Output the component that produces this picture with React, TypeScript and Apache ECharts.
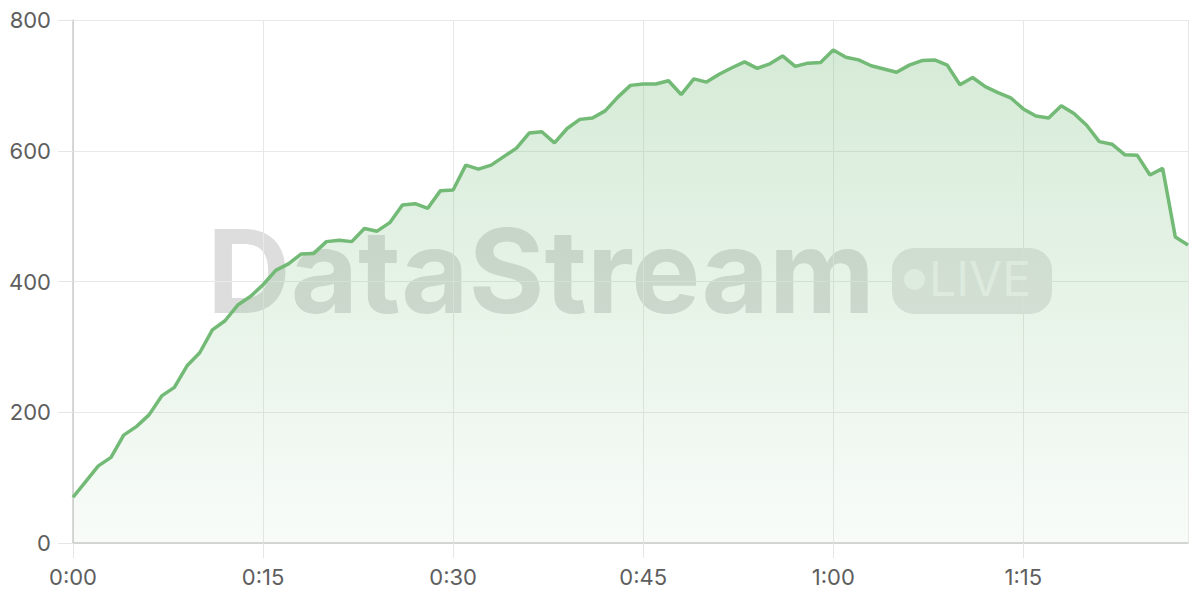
import React, { useEffect, useRef } from "react";
import * as echarts from "echarts";

// Minutes elapsed since start (one reading per minute)
const minutes: number[] = [
  0, 1, 2, 3, 4, 5, 6, 7, 8, 9, 10, 11, 12, 13, 14, 15, 16, 17, 18, 19, 20,
  21, 22, 23, 24, 25, 26, 27, 28, 29, 30, 31, 32, 33, 34, 35, 36, 37, 38, 39,
  40, 41, 42, 43, 44, 45, 46, 47, 48, 49, 50, 51, 52, 53, 54, 55, 56, 57, 58,
  59, 60, 61, 62, 63, 64, 65, 66, 67, 68, 69, 70, 71, 72, 73, 74, 75, 76, 77,
  78, 79, 80, 81, 82, 83, 84, 85, 86, 87, 88,
];

// Values
const values: number[] = [
  70, 94, 118, 131, 165, 178, 196, 225, 238, 271, 291, 326, 340, 364, 377, 395,
  417, 427, 442, 443, 461, 463, 461, 481, 477, 490, 517, 519, 512, 539, 540,
  578, 572, 578, 591, 604, 627, 629, 612, 634, 648, 650, 661, 682, 700, 702,
  702, 707, 686, 710, 705, 717, 727, 736, 726, 733, 745, 729, 734, 735, 754,
  743, 739, 730, 725, 720, 731, 738, 739, 731, 701, 712, 698, 689, 681, 664,
  653, 650, 669, 657, 639, 614, 610, 594, 593, 563, 573, 468, 456,
];

const xMin = 0;
const xMax = 88;
const xInterval = 15;
const yMin = 0;
const yMax = 800;
const yInterval = 200;

const watermarkTitle = "DataStream";
const watermarkBadge = "LIVE";

const fmtTime = (v: number) =>
  `${Math.floor(v / 60)}:${String(Math.round(v % 60)).padStart(2, "0")}`;

export default function App() {
  const ref = useRef<HTMLDivElement>(null);

  useEffect(() => {
    if (!ref.current) return;
    const chart = echarts.init(ref.current, undefined, { renderer: "svg" });
    const green = "#72ba76";
    const labelFont = {
      fontFamily: "Inter, 'Noto Sans', sans-serif",
      fontSize: 22,
      color: "#5e5e5e",
    };
    chart.setOption({
      animation: false,
      backgroundColor: "#ffffff",
      grid: { left: 73, right: 12, top: 20, bottom: 57, containLabel: false },
      xAxis: {
        type: "value",
        min: xMin,
        max: xMax,
        interval: xInterval,
        axisLine: { show: true, lineStyle: { color: "#cccccc", width: 1.5 } },
        axisTick: { show: true, length: 15, lineStyle: { color: "#e6e6e6" } },
        axisLabel: { ...labelFont, margin: 23, formatter: fmtTime, showMaxLabel: false },
        splitLine: { show: true, lineStyle: { color: "#e8e8e8", width: 1 } },
      },
      yAxis: {
        type: "value",
        min: yMin,
        max: yMax,
        interval: yInterval,
        axisLine: { show: true, lineStyle: { color: "#cccccc", width: 1.5 } },
        axisTick: { show: true, length: 15, lineStyle: { color: "#e6e6e6" } },
        axisLabel: { ...labelFont, margin: 22 },
        splitLine: { show: true, lineStyle: { color: "#e8e8e8", width: 1 } },
      },
      graphic: [
        {
          type: "text",
          left: 207,
          top: 213,
          z: 0,
          silent: true,
          style: {
            text: watermarkTitle,
            font: "bold 116px Inter, 'Noto Sans', sans-serif",
            fill: "rgba(128,128,128,0.27)",
          },
        },
        {
          type: "rect",
          left: 892,
          top: 248,
          z: 0,
          silent: true,
          shape: { width: 160, height: 66, r: 22 },
          style: { fill: "rgba(128,128,128,0.2)" },
        },
        {
          type: "circle",
          left: 904,
          top: 269,
          z: 1,
          silent: true,
          shape: { r: 10.5 },
          style: { fill: "rgba(255,255,255,0.6)" },
        },
        {
          type: "text",
          left: 929,
          top: 254,
          z: 1,
          silent: true,
          style: {
            text: watermarkBadge,
            font: "48px Inter, 'Noto Sans', sans-serif",
            fill: "rgba(255,255,255,0.6)",
          },
        },
      ],
      series: [
        {
          type: "line",
          data: minutes.map((m, i) => [m, values[i]]),
          showSymbol: false,
          smooth: false,
          z: 5,
          lineStyle: { color: green, width: 3.5 },
          itemStyle: { color: green },
          areaStyle: {
            color: new echarts.graphic.LinearGradient(0, 0, 0, 1, [
              { offset: 0, color: "rgba(114,186,118,0.42)" },
              { offset: 1, color: "rgba(114,186,118,0.07)" },
            ]),
          },
        },
      ],
    });
    return () => chart.dispose();
  }, []);

  return (
    <div
      ref={ref}
      style={{ position: "absolute", left: 0, top: 0, width: 1200, height: 600 }}
    />
  );
}
